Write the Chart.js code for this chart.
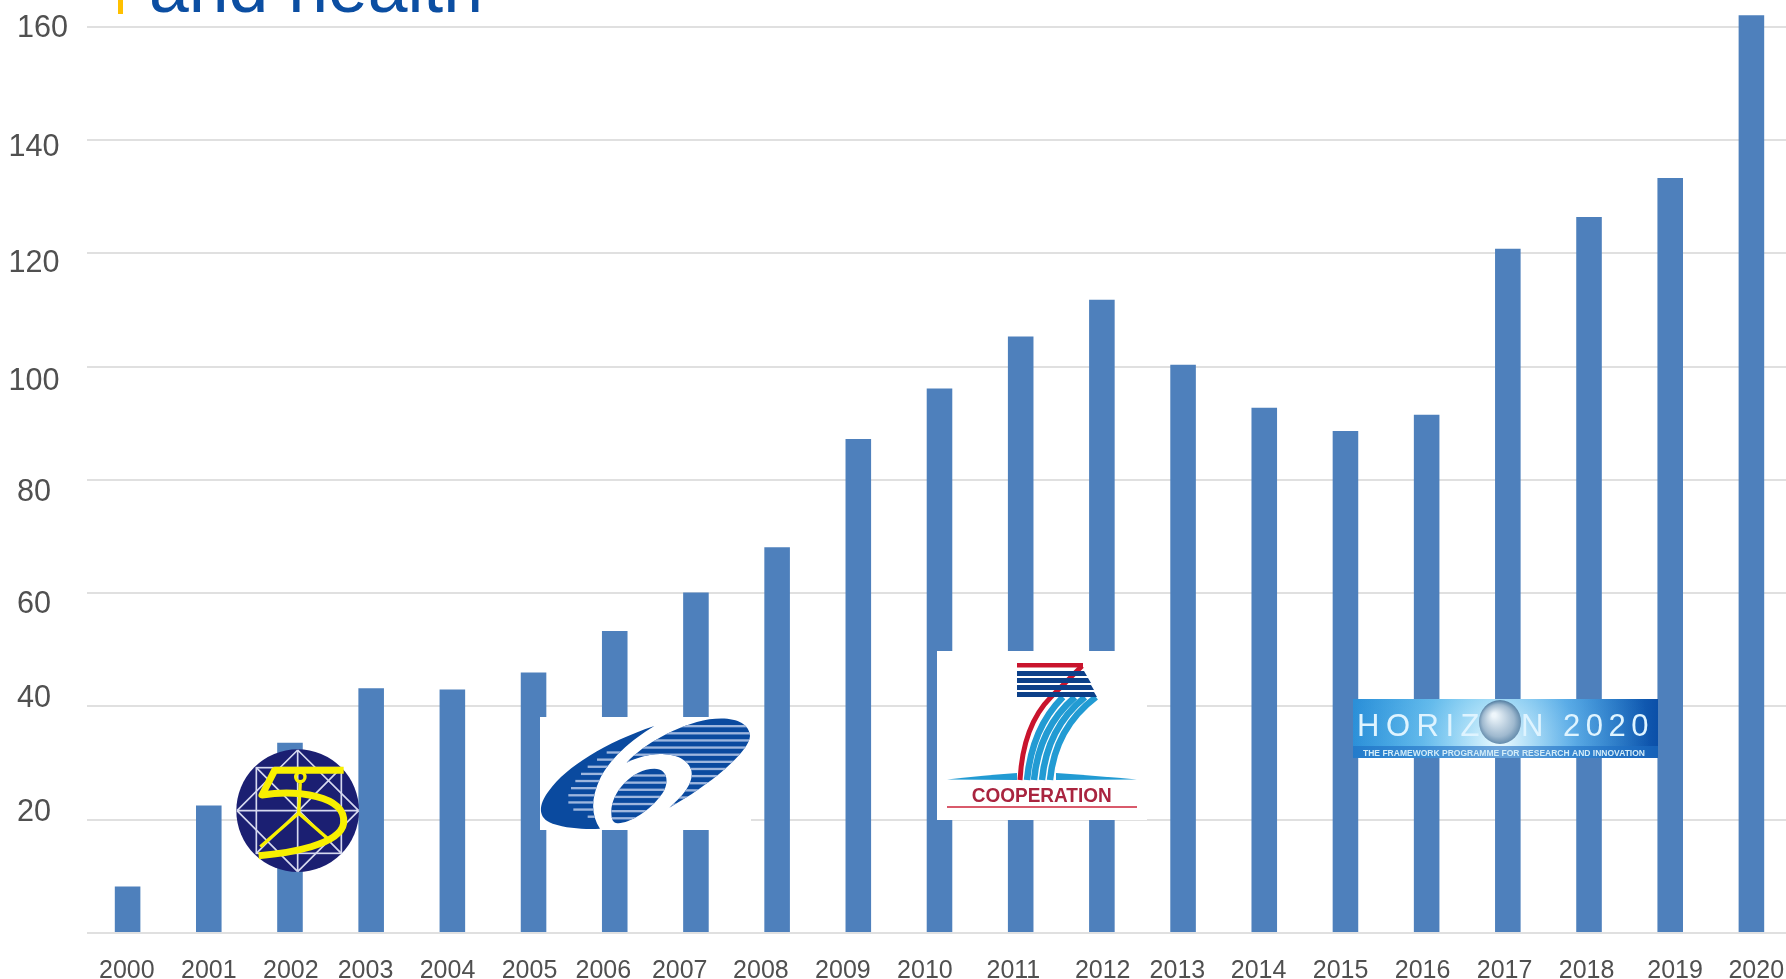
<!DOCTYPE html>
<html><head><meta charset="utf-8">
<style>html,body{margin:0;padding:0;background:#fff;overflow:hidden;width:1786px;height:979px}canvas{display:block}</style>
<script src="https://cdn.jsdelivr.net/npm/chart.js@4"></script>
</head><body>
<div style="width:1792px;height:979px;position:relative"><canvas id="c" width="1792" height="979"></canvas></div>
<script>
const years = ['2000','2001','2002','2003','2004','2005','2006','2007','2008','2009','2010','2011','2012','2013','2014','2015','2016','2017','2018','2019','2020'];
const values = [8.2,22.5,33.6,43.2,43,46,53.3,60.1,68.1,87.2,96.1,105.3,111.8,100.3,92.7,88.6,91.5,120.8,126.4,133.3,162];
const yTickLabels = ['\u00A0\u00A0160','140','120','100','80','60','40','20'];
// the slide's hand-placed axis texts sit a little away from their gridlines / bars (in axis units)
const yLabelAt = [159.6,138.7,118.1,97.4,77.7,58,41.3,21.2];
const xLabelAt = [-0.01,1,2.01,2.93,3.94,4.95,5.86,6.8,7.8,8.81,9.82,10.91,12.01,12.93,13.93,14.94,15.95,16.96,17.97,19.06,20.06];

function ell(ctx,x,y,a,b,r){ctx.beginPath();ctx.ellipse(x,y,a,b,r,0,Math.PI*2);}
function logo5(ctx){
  ctx.save();
  ctx.translate(232,745);ctx.scale(1/3,1/3);
  ctx.fillStyle='#1b1f72';ctx.beginPath();ctx.arc(197,197,184,0,Math.PI*2);ctx.fill();
  ctx.strokeStyle='#d6d9ef';ctx.lineWidth=5;
  ctx.strokeRect(73,68,255,257);
  ctx.beginPath();
  [[15,197,197,15],[197,15,380,197],[380,197,197,380],[197,380,15,197],[73,68,328,325],[328,68,73,325],[197,15,197,380],[15,197,380,197]].forEach(s=>{ctx.moveTo(s[0],s[1]);ctx.lineTo(s[2],s[3]);});
  ctx.stroke();
  ctx.strokeStyle='#f8f000';ctx.lineJoin='round';ctx.lineCap='butt';ctx.lineWidth=21;
  ctx.beginPath();ctx.moveTo(335,76);ctx.lineTo(128,76);ctx.lineTo(90,150);
  ctx.bezierCurveTo(190,135,345,150,335,235);ctx.bezierCurveTo(325,300,170,325,80,332);ctx.stroke();
  ctx.lineWidth=10;
  ctx.beginPath();ctx.arc(205,96,14,0,Math.PI*2);ctx.moveTo(205,110);ctx.lineTo(200,205);ctx.moveTo(200,205);ctx.lineTo(85,305);ctx.moveTo(200,205);ctx.lineTo(292,285);ctx.stroke();
  ctx.restore();
}
function stripes(ctx,x0,x1,y0,y1,step,h,col){ctx.fillStyle=col;for(let y=y0;y<y1;y+=step)ctx.fillRect(x0,y,x1-x0,h);}
function logo6(ctx){
  ctx.save();
  ctx.fillStyle='#fff';ctx.fillRect(540,717,211,113);
  ctx.translate(536,712);ctx.scale(1/3,1/3);
  const blue='#0a4a9f',pale='#9db6de';
  // left crescent
  ctx.save();ctx.beginPath();
  ctx.moveTo(355,42);ctx.bezierCurveTo(210,90,90,165,40,235);ctx.bezierCurveTo(5,280,5,320,50,335);
  ctx.bezierCurveTo(95,350,150,352,192,350);ctx.bezierCurveTo(165,310,165,260,190,205);ctx.bezierCurveTo(220,140,285,85,355,42);ctx.closePath();
  ctx.fillStyle=blue;ctx.fill();ctx.clip();
  ctx.fillStyle=pale;
  [[212,118],[183,140],[155,162],[135,184],[118,206],[105,227],[97,248],[97,269],[112,291],[155,312]].forEach((s,i)=>ctx.fillRect(s[0],118+i*21.4,230,7));
  ctx.restore();
  // upper right band
  ctx.save();ctx.beginPath();
  ctx.moveTo(272,152);ctx.bezierCurveTo(320,100,420,40,520,22);ctx.bezierCurveTo(590,12,640,30,642,72);
  ctx.bezierCurveTo(640,120,520,220,400,287);ctx.bezierCurveTo(450,245,475,205,465,172);ctx.bezierCurveTo(450,130,390,122,345,128);ctx.bezierCurveTo(315,133,290,142,272,152);ctx.closePath();
  ctx.fillStyle=blue;ctx.fill();ctx.clip();
  stripes(ctx,270,645,39,290,21.4,7,pale);
  ctx.restore();
  // inner ellipse
  ctx.save();ctx.beginPath();
  ctx.moveTo(226,300);ctx.bezierCurveTo(225,240,290,170,355,170);ctx.bezierCurveTo(400,170,400,220,375,250);ctx.bezierCurveTo(340,300,270,340,240,333);ctx.bezierCurveTo(228,330,226,315,226,300);ctx.closePath();
  ctx.fillStyle=blue;ctx.fill();ctx.clip();
  stripes(ctx,220,400,187,335,21.4,7,pale);
  ctx.restore();
  ctx.restore();
}
function logo7(ctx){
  ctx.save();
  ctx.fillStyle='#fff';ctx.fillRect(937,651,210,169);
  ctx.strokeStyle='#229bd3';ctx.lineWidth=6.5;
  [[1063,1027],[1075,1034],[1085,1042],[1096,1050]].forEach(p=>{
    ctx.beginPath();ctx.moveTo(p[0],697);ctx.quadraticCurveTo(p[1]+5,728,p[1],780);ctx.stroke();
  });
  ctx.fillStyle='#229bd3';
  ctx.beginPath();ctx.moveTo(947,779.5);ctx.quadraticCurveTo(985,775,1017,773);ctx.lineTo(1017,780);ctx.fill();
  ctx.beginPath();ctx.moveTo(1056,773);ctx.quadraticCurveTo(1100,776,1137,779.5);ctx.lineTo(1056,780);ctx.fill();
  ctx.strokeStyle='#c9142d';ctx.lineWidth=5;
  ctx.beginPath();ctx.moveTo(1082,666);ctx.lineTo(1051,697);ctx.quadraticCurveTo(1023,725,1020,780);ctx.stroke();
  ctx.fillStyle='#c9142d';ctx.fillRect(1017,663,66,4.5);
  ctx.fillStyle='#0c4089';
  [[671,1087],[678,1091],[685,1094],[692,1097]].forEach(b=>{ctx.beginPath();ctx.moveTo(1017,b[0]);ctx.lineTo(b[1]-3,b[0]);ctx.lineTo(b[1],b[0]+5);ctx.lineTo(1017,b[0]+5);ctx.fill();});
  ctx.fillStyle='#a9243f';ctx.font='600 21px "Liberation Sans Narrow","Liberation Sans"';ctx.textAlign='center';ctx.textBaseline='alphabetic';
  ctx.fillText('COOPERATION',1041.7,802,140);
  ctx.fillStyle='#c9142d';ctx.fillRect(947,806.3,190,1.4);
  ctx.restore();
}
function logo2020(ctx){
  ctx.save();
  ctx.beginPath();ctx.rect(1353,699,305,59);ctx.clip();
  let g=ctx.createLinearGradient(1353,0,1658,0);
  g.addColorStop(0,'#2b8fd8');g.addColorStop(.25,'#3fa6e4');g.addColorStop(.45,'#5cbcec');g.addColorStop(.7,'#2f8fdc');g.addColorStop(1,'#0b4fa8');
  ctx.fillStyle=g;ctx.fillRect(1353,699,305,59);
  g=ctx.createRadialGradient(1500,742,5,1500,742,150);
  g.addColorStop(0,'rgba(235,250,255,.95)');g.addColorStop(.5,'rgba(170,225,250,.35)');g.addColorStop(1,'rgba(120,200,240,0)');
  ctx.fillStyle=g;ctx.fillRect(1353,699,305,59);
  ctx.fillStyle='rgba(30,110,195,.6)';ctx.fillRect(1353,746,305,12);
  g=ctx.createRadialGradient(1494,715,2,1500,723,22);
  g.addColorStop(0,'#eef6fb');g.addColorStop(.7,'#9fb9cf');g.addColorStop(1,'#5d86a8');
  ell(ctx,1500,722,21,22,0);ctx.fillStyle=g;ctx.fill();
  ctx.fillStyle='#dff4ff';ctx.textAlign='left';ctx.textBaseline='alphabetic';ctx.font='31px "Liberation Sans"';
  ctx.letterSpacing='6.5px';ctx.fillText('HORIZ',1357,736);
  ctx.letterSpacing='5.5px';ctx.fillText('N 2020',1521,736);
  ctx.letterSpacing='0px';
  ctx.fillStyle='#d2ecf8';ctx.font='bold 9px "Liberation Sans"';
  ctx.fillText('THE FRAMEWORK PROGRAMME FOR RESEARCH AND INNOVATION',1363,756,282);
  ctx.restore();
}
const overlays={id:'overlays',afterDraw(chart){
  const ctx=chart.ctx;
  logo5(ctx);logo6(ctx);logo7(ctx);logo2020(ctx);
  ctx.save();
  ctx.fillStyle='#ffc000';ctx.fillRect(118,0,5,14);
  ctx.fillStyle='#0b4ea2';ctx.font='71.5px "Liberation Sans"';ctx.textAlign='left';ctx.textBaseline='alphabetic';
  ctx.fillText('and health',149,12);
  ctx.restore();
}};
function noPad(s){s.paddingTop=s.paddingBottom=s.paddingLeft=s.paddingRight=0;}
new Chart(document.getElementById('c'),{
  type:'bar',
  data:{labels:years,datasets:[{data:values,backgroundColor:'#4e80bc',borderWidth:0,barPercentage:0.315,categoryPercentage:1}]},
  plugins:[overlays],
  options:{
    responsive:false,animation:false,
    layout:{padding:0},
    plugins:{legend:{display:false},tooltip:{enabled:false},title:{display:false}},
    scales:{
      x:{type:'category',position:'bottom',grid:{display:false,drawTicks:false},border:{display:false},ticks:{display:false},afterFit(s){s.height=0;noPad(s);}},
      xText:{type:'linear',offset:false,bounds:'data',position:'bottom',min:-0.5,max:20.5,grid:{display:false,drawTicks:false,offset:false},border:{display:false},
        afterBuildTicks(s){s.ticks=xLabelAt.map(value=>({value}));},
        afterFit(s){s.height=46;noPad(s);},
        ticks:{autoSkip:false,maxRotation:0,includeBounds:false,padding:23,color:'#505050',font:{family:'"Liberation Sans"',size:25},callback:(v,i)=>years[i]}},
      y:{type:'linear',bounds:'data',position:'left',min:0,max:164.7,grid:{color:'#e0e0e0',lineWidth:2,drawTicks:false},border:{display:false},ticks:{display:false},
        afterBuildTicks(s){s.ticks=[0,20,40,60,80,100,120,140,160].map(value=>({value}));},
        afterFit(s){s.width=0;noPad(s);}},
      yText:{type:'linear',bounds:'data',position:'left',min:0,max:164.7,grid:{display:false,drawTicks:false},border:{display:false},
        afterBuildTicks(s){s.ticks=yLabelAt.map(value=>({value}));},
        afterFit(s){s.width=87;noPad(s);},
        ticks:{autoSkip:false,includeBounds:false,crossAlign:'center',padding:19,color:'#505050',font:{family:'"Liberation Sans"',size:30.6},callback:(v,i)=>yTickLabels[i]}}
    }
  }
});
</script>
</body></html>
